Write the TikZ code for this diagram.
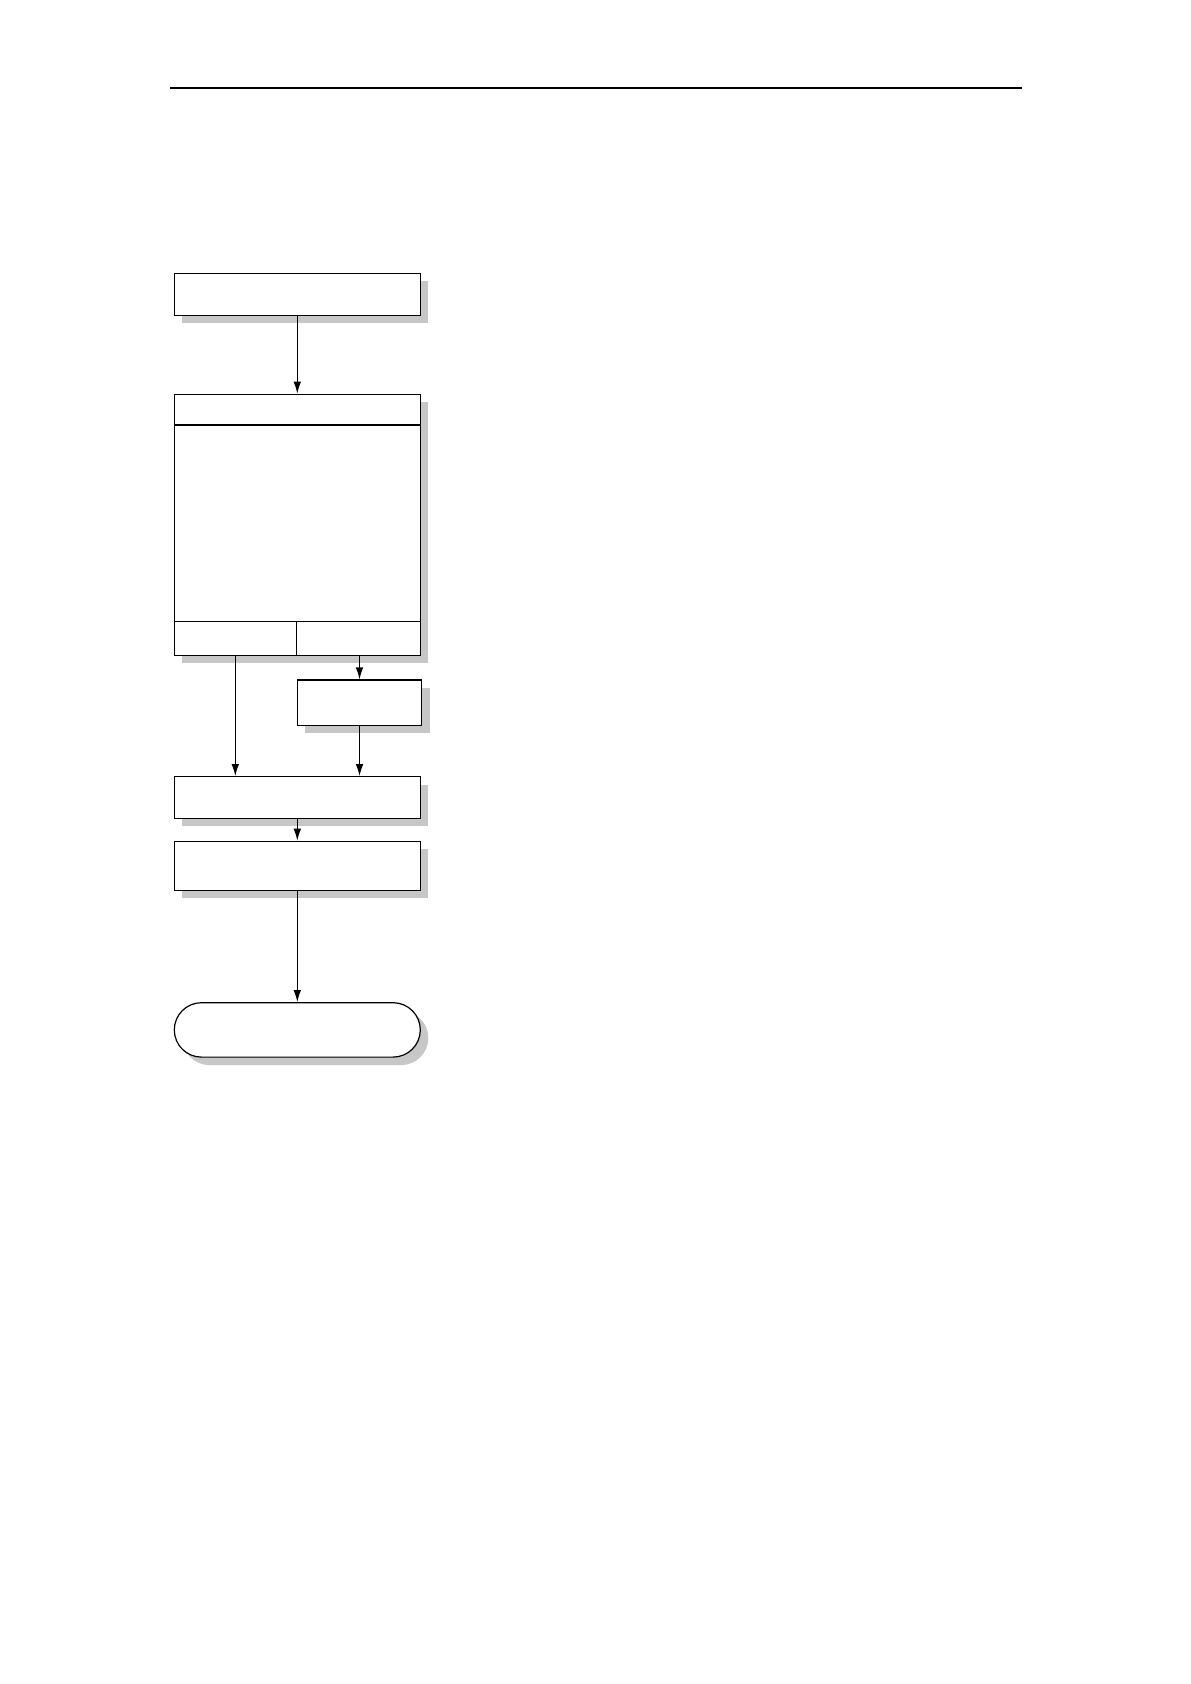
\documentclass[tikz,border=0pt]{standalone}
\usetikzlibrary{arrows.meta,shadows,shapes.misc}

\tikzset{
  box/.style={draw, line width=0.6pt, fill=white, inner sep=0pt,
    drop shadow={shadow xshift=4pt, shadow yshift=-4pt, fill=black!22, opacity=1}},
  cell/.style={draw, line width=0.6pt, inner sep=0pt},
  flow/.style={-{Latex[length=6pt,width=3.8pt]}, line width=0.6pt},
}

\begin{document}
\begin{tikzpicture}[x=0.5pt,y=-0.5pt]
  \useasboundingbox (0,0) rectangle (1190,1684);
  % header rule
  \draw[line width=0.7pt] (170,88) -- (1022,88);

  \node[box, minimum width=123pt, minimum height=21pt] (start) at (297.3,294.3) {};

  % large box with head strip and two bottom cells
  \node[box, minimum width=123pt, minimum height=130.5pt] (check) at (297.3,524.8) {};
  \node[cell, minimum width=123pt, minimum height=15.35pt] (head) at (297.3,409.65) {};
  \node[cell, minimum width=61pt, minimum height=17pt] (cellL) at (235.3,638.3) {};
  \node[cell, minimum width=62pt, minimum height=17pt] (cellR) at (358.3,638.3) {};

  \node[box, minimum width=62.2pt, minimum height=22.65pt] (sub) at (359.5,702.7) {};
  \node[box, minimum width=123pt, minimum height=20.8pt] (merge) at (297.3,797.5) {};
  \node[box, minimum width=123pt, minimum height=24.5pt] (final) at (297.3,865.8) {};
  \node[box, rounded rectangle, minimum width=123pt, minimum height=27.2pt] (stop) at (297.3,1029.9) {};

  \draw[flow] (start) -- (check);
  \draw[flow] (check.south -| cellL) -- (merge.north -| cellL);
  \draw[flow] (check.south -| sub) -- (sub);
  \draw[flow] (sub) -- (merge.north -| sub);
  \draw[flow] (merge) -- (final);
  \draw[flow] (final) -- (stop);
\end{tikzpicture}
\end{document}
